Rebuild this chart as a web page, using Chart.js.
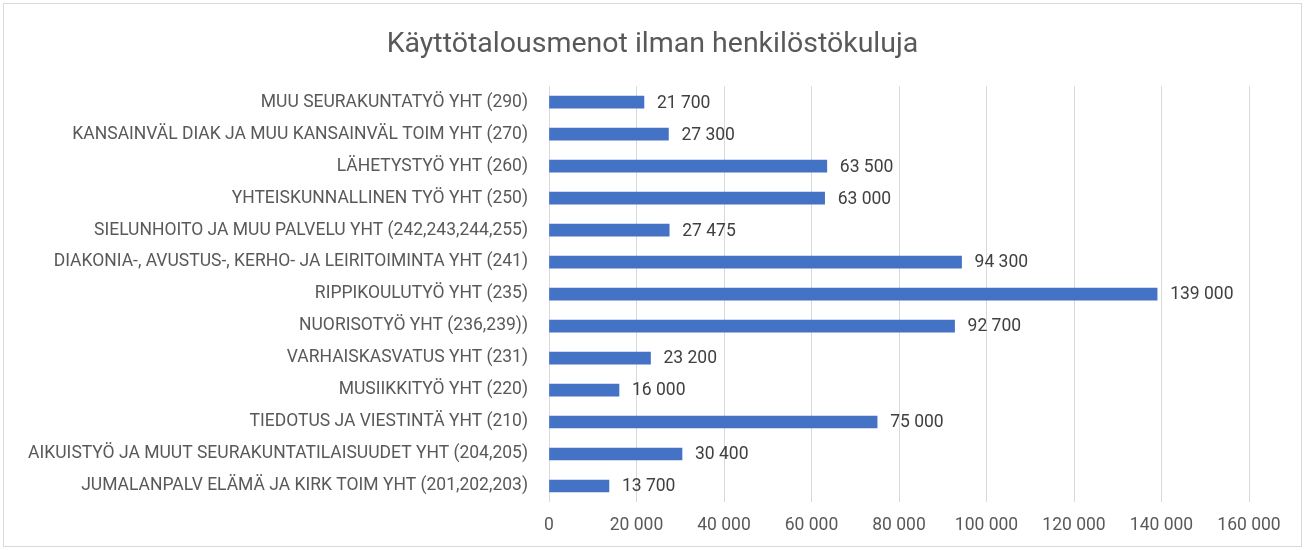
<!DOCTYPE html>
<html>
<head>
<meta charset="utf-8">
<script src="https://cdn.jsdelivr.net/npm/chart.js@4/dist/chart.umd.min.js"></script>
<style>
    body { margin: 0; background: #fff; }
    #wrap { position: relative; width: 1305px; height: 550px; }
    #frame { position: absolute; left: 3px; top: 3px; width: 1297px; height: 542px; border: 1px solid #d9d9d9; pointer-events: none; }
</style>
</head>
<body>
<div id="wrap">
    <canvas id="costChart"></canvas>
    <div id="frame"></div>
</div>
<script>
// Data (top to bottom as in the chart)
const categories = [
    'MUU SEURAKUNTATYÖ YHT (290)',
    'KANSAINVÄL DIAK JA MUU KANSAINVÄL TOIM YHT (270)',
    'LÄHETYSTYÖ YHT (260)',
    'YHTEISKUNNALLINEN TYÖ YHT (250)',
    'SIELUNHOITO JA MUU PALVELU YHT (242,243,244,255)',
    'DIAKONIA-, AVUSTUS-, KERHO- JA LEIRITOIMINTA YHT (241)',
    'RIPPIKOULUTYÖ YHT (235)',
    'NUORISOTYÖ YHT (236,239))',
    'VARHAISKASVATUS YHT (231)',
    'MUSIIKKITYÖ YHT (220)',
    'TIEDOTUS JA VIESTINTÄ YHT (210)',
    'AIKUISTYÖ JA MUUT SEURAKUNTATILAISUUDET YHT (204,205)',
    'JUMALANPALV ELÄMÄ JA KIRK TOIM YHT (201,202,203)'
];
const expenses = [21700, 27300, 63500, 63000, 27475, 94300, 139000, 92700, 23200, 16000, 75000, 30400, 13700];
const xTicks = [0, 20000, 40000, 60000, 80000, 100000, 120000, 140000, 160000];

const FONT = 'Roboto, "Liberation Sans", sans-serif';

function fmt(v) {
    return String(v).replace(/\B(?=(\d{3})+(?!\d))/g, ' ');
}

// draws the value next to each bar
const valueLabels = {
    id: 'valueLabels',
    afterDatasetsDraw(chart) {
        const ctx = chart.ctx;
        ctx.save();
        ctx.font = '17.5px ' + FONT;
        ctx.fillStyle = '#404040';
        ctx.textBaseline = 'middle';
        chart.getDatasetMeta(0).data.forEach((bar, i) => {
            ctx.fillText(fmt(expenses[i]), bar.x + 13, bar.y + 1);
        });
        ctx.restore();
    }
};

new Chart(document.getElementById('costChart').getContext('2d'), {
    type: 'bar',
    data: {
        labels: categories,
        datasets: [{
            data: expenses,
            backgroundColor: '#4472c4',
            barThickness: 12
        }]
    },
    options: {
        indexAxis: 'y',
        responsive: true,
        maintainAspectRatio: false,
        animation: false,
        layout: { padding: 0 },
        plugins: {
            legend: { display: false },
            tooltip: { enabled: false },
            title: {
                display: true,
                text: 'Käyttötalousmenot ilman henkilöstökuluja',
                color: '#595959',
                font: { family: FONT, size: 28.5, weight: 'normal' },
                padding: { top: 28, bottom: 24 }
            }
        },
        scales: {
            x: {
                min: 0,
                max: 160000,
                afterBuildTicks: scale => { scale.ticks = xTicks.map(v => ({ value: v })); },
                afterFit: scale => { scale.height = 48; },
                grid: { color: '#d9d9d9', drawTicks: false },
                border: { display: false },
                ticks: {
                    color: '#595959',
                    padding: 13,
                    font: { family: FONT, size: 17.5 },
                    callback: v => fmt(v)
                }
            },
            y: {
                afterFit: scale => { scale.width = 549; },
                grid: { display: false, drawTicks: false },
                border: { display: false },
                ticks: {
                    color: '#595959',
                    padding: 21,
                    font: { family: FONT, size: 17.5 }
                }
            },
            // empty right-hand axis, only keeps room on the right
            yRight: {
                type: 'category',
                position: 'right',
                afterFit: scale => { scale.width = 56; },
                grid: { display: false, drawTicks: false },
                border: { display: false },
                ticks: { display: false }
            }
        }
    },
    plugins: [valueLabels]
});
</script>
</body>
</html>
